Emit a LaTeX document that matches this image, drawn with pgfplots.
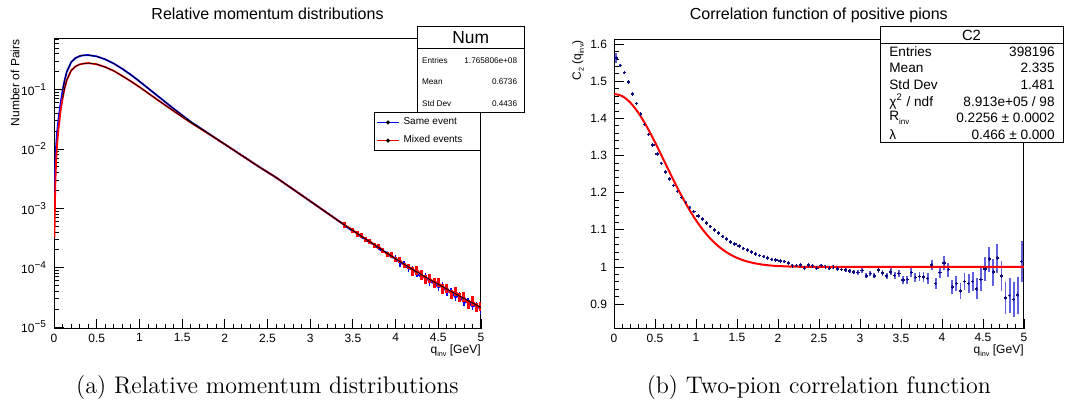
\documentclass[border=0pt]{standalone}
\usepackage{fontspec}
\usepackage{pgfplots}
\usepackage{pgfplotstable}
\pgfplotsset{compat=1.18}
\newfontfamily\helv{Liberation Sans}
\definecolor{navyb}{rgb}{0.05,0.05,0.5}
\definecolor{errb}{rgb}{0.38,0.38,0.86}

% same-event pairs (normalised)
\pgfplotstableread{
q n
0.005 1.6e-3
0.015 5.6e-3
0.025 1.12e-2
0.035 1.78e-2
0.05 2.95e-2
0.075 5.6e-2
0.10 9.5e-2
0.125 0.145
0.15 0.20
0.20 0.288
0.25 0.339
0.30 0.367
0.35 0.380
0.40 0.382
0.50 0.363
0.60 0.324
0.70 0.275
0.80 0.224
0.90 0.178
1.00 0.138
1.20 0.0813
1.40 0.0479
1.60 0.0288
1.80 0.0186
2.00 0.0120
2.20 7.76e-3
2.40 5.01e-3
2.60 3.31e-3
2.80 2.09e-3
3.00 1.32e-3
3.20 8.32e-4
3.40 5.25e-4
3.50 4.07e-4
3.55 3.85e-4
3.60 3.24e-4
3.65 3.02e-4
3.70 2.60e-4
3.75 2.48e-4
3.80 2.09e-4
3.85 1.88e-4
3.90 1.80e-4
3.95 1.50e-4
4.00 1.45e-4
4.05 1.19e-4
4.10 1.15e-4
4.15 9.66e-5
4.20 9.55e-5
4.25 7.85e-5
4.30 7.00e-5
4.35 7.08e-5
4.40 5.75e-5
4.45 5.50e-5
4.50 4.68e-5
4.55 5.01e-5
4.60 3.89e-5
4.65 3.98e-5
4.70 3.16e-5
4.75 3.39e-5
4.80 2.57e-5
4.85 2.69e-5
4.90 2.21e-5
4.95 2.37e-5
5.00 1.91e-5
}\same

% mixed-event pairs (normalised)
\pgfplotstableread{
q n
0.005 3.2e-4
0.015 2.5e-3
0.025 6.3e-3
0.035 1.12e-2
0.05 2.0e-2
0.075 4.17e-2
0.10 7.08e-2
0.125 0.107
0.15 0.145
0.20 0.209
0.25 0.245
0.30 0.266
0.35 0.275
0.40 0.280
0.50 0.268
0.60 0.240
0.70 0.207
0.80 0.170
0.90 0.138
1.00 0.111
1.20 0.0692
1.40 0.0437
1.60 0.0279
1.80 0.0184
2.00 0.0120
2.20 7.76e-3
2.40 5.01e-3
2.60 3.31e-3
2.80 2.09e-3
3.00 1.32e-3
3.20 8.32e-4
3.40 5.25e-4
3.50 4.315e-4
3.55 3.715e-4
3.60 3.508e-4
3.65 2.985e-4
3.70 2.786e-4
3.75 2.371e-4
3.80 2.291e-4
3.85 1.950e-4
3.90 1.679e-4
3.95 1.641e-4
4.00 1.380e-4
4.05 1.349e-4
4.10 1.096e-4
4.15 1.059e-4
4.20 8.81e-5
4.25 9.12e-5
4.30 7.67e-5
4.35 6.46e-5
4.40 6.61e-5
4.45 5.62e-5
4.50 5.69e-5
4.55 4.47e-5
4.60 4.57e-5
4.65 3.63e-5
4.70 4.07e-5
4.75 3.16e-5
4.80 3.24e-5
4.85 2.45e-5
4.90 2.79e-5
4.95 2.16e-5
5.00 2.24e-5
}\mixed

% smooth centre of the tail
\pgfplotstableread{
q n
3.40 5.25e-4
3.60 3.39e-4
3.80 2.19e-4
4.00 1.41e-4
4.20 9.33e-5
4.40 6.31e-5
4.60 4.37e-5
4.80 3.02e-5
5.00 2.14e-5
}\tailmid

% C2(qinv), bin centre, value, error
\pgfplotstableread{
q c e
0.025 1.562 0.014
0.075 1.542 0.004
0.125 1.523 0.003
0.175 1.498 0.003
0.225 1.466 0.003
0.275 1.440 0.003
0.325 1.411 0.003
0.375 1.383 0.003
0.425 1.357 0.003
0.475 1.328 0.003
0.525 1.304 0.003
0.575 1.279 0.003
0.625 1.256 0.003
0.675 1.237 0.003
0.725 1.219 0.003
0.775 1.203 0.003
0.825 1.187 0.003
0.875 1.174 0.003
0.925 1.160 0.003
0.975 1.149 0.003
1.025 1.138 0.003
1.075 1.129 0.003
1.125 1.119 0.003
1.175 1.109 0.003
1.225 1.100 0.003
1.275 1.091 0.003
1.325 1.082 0.003
1.375 1.075 0.003
1.425 1.068 0.003
1.475 1.062 0.003
1.525 1.056 0.003
1.575 1.050 0.003
1.625 1.045 0.003
1.675 1.040 0.003
1.725 1.035 0.003
1.775 1.031 0.003
1.825 1.028 0.003
1.875 1.024 0.003
1.925 1.020 0.003
1.975 1.019 0.003
2.025 1.016 0.003
2.075 1.015 0.003
2.125 1.010 0.003
2.175 1.003 0.004
2.225 1.004 0.004
2.275 1.005 0.004
2.325 0.998 0.004
2.375 1.005 0.004
2.425 1.002 0.004
2.475 0.998 0.004
2.525 1.004 0.004
2.575 1.000 0.004
2.625 0.997 0.005
2.675 1.000 0.005
2.725 0.995 0.005
2.775 0.993 0.005
2.825 0.992 0.005
2.875 0.989 0.005
2.925 0.986 0.006
2.975 0.985 0.006
3.025 0.990 0.006
3.075 0.976 0.007
3.125 0.982 0.007
3.175 0.976 0.007
3.225 0.992 0.008
3.275 0.983 0.008
3.325 0.975 0.008
3.375 0.987 0.009
3.425 0.977 0.009
3.475 0.982 0.010
3.525 0.965 0.010
3.575 0.966 0.011
3.625 0.985 0.011
3.675 0.972 0.012
3.725 0.974 0.012
3.775 0.973 0.013
3.825 0.969 0.014
3.875 1.006 0.014
3.925 0.955 0.015
3.975 0.985 0.016
4.025 1.011 0.018
4.075 0.993 0.019
4.125 0.946 0.020
4.175 0.955 0.021
4.225 0.935 0.022
4.275 0.961 0.024
4.325 0.955 0.025
4.375 0.961 0.026
4.425 0.941 0.028
4.475 0.966 0.030
4.525 0.995 0.032
4.575 1.021 0.034
4.625 0.986 0.036
4.675 1.024 0.039
4.725 0.975 0.041
4.775 0.917 0.043
4.825 0.923 0.046
4.875 0.912 0.048
4.925 0.924 0.050
4.975 1.015 0.055
}\corr

% fitted curve values
\pgfplotstableread{
q c
0.0 1.4660
0.1 1.4600
0.2 1.4422
0.3 1.4142
0.4 1.3779
0.5 1.3358
0.6 1.2908
0.7 1.2453
0.8 1.2015
0.9 1.1613
1.0 1.1257
1.1 1.0955
1.2 1.0706
1.3 1.0509
1.4 1.0358
1.5 1.0245
1.6 1.0163
1.7 1.0106
1.8 1.0067
1.9 1.0041
2.0 1.0025
2.2 1.0008
2.4 1.0002
2.6 1.0001
3.0 1.0
4.0 1.0
5.0 1.0
}\fit

\pgfplotsset{
  rootstyle/.style={
    scale only axis,
    xmin=0, xmax=5,
    axis line style={line width=0.5pt},
    tick align=inside,
    tick pos=left,
    major tick length=4.8pt,
    minor tick length=2.4pt,
    every tick/.style={black, line width=0.4pt},
    xtick={0,0.5,1,1.5,2,2.5,3,3.5,4,4.5,5},
    minor x tick num=4,
    ticklabel style={font=\helv\fontsize{6}{7}\selectfont},
    xticklabel style={yshift=1.2pt},
    /pgf/number format/assume math mode=true,
    label style={font=\helv\fontsize{6}{7}\selectfont},
  },
}
\newcommand{\inv}{\raisebox{-1.6pt}{\fontsize{3.6}{4}\selectfont inv}}

\begin{document}
\begin{tikzpicture}[x=0.5pt,y=-0.5pt]
\useasboundingbox (0,0) rectangle (1084,405);

\begin{axis}[rootstyle,
  at={(27pt,-164.5pt)}, anchor=south west,
  width=213.5pt, height=145pt,
  ymode=log, ymin=9.25e-6, ymax=0.713,
  ytick={1e-5,1e-4,1e-3,1e-2,1e-1},
  yticklabels={10\textsuperscript{−5},10\textsuperscript{−4},10\textsuperscript{−3},10\textsuperscript{−2},10\textsuperscript{−1}},
  minor ytick={2e-5,3e-5,4e-5,5e-5,6e-5,7e-5,8e-5,9e-5,
    2e-4,3e-4,4e-4,5e-4,6e-4,7e-4,8e-4,9e-4,
    2e-3,3e-3,4e-3,5e-3,6e-3,7e-3,8e-3,9e-3,
    2e-2,3e-2,4e-2,5e-2,6e-2,7e-2,8e-2,9e-2,
    0.2,0.3,0.4,0.5,0.6,0.7},
  xlabel={q\inv\ [GeV]},
  xlabel style={at={(axis description cs:1,-0.076)}, anchor=east, inner sep=0pt},
  ylabel={Number of Pairs},
  ylabel style={at={(axis description cs:-0.0913,1)}, anchor=east, inner sep=0pt},
  legend style={at={(axis description cs:1,0.747)}, anchor=north east,
    draw=black, line width=0.5pt, font=\helv\fontsize{5}{6}\selectfont,
    inner xsep=1pt, inner ysep=0.3pt, row sep=0pt, cells={anchor=west}},
  legend cell align=left,
  legend image code/.code={\draw[#1, line width=0.5pt] (0pt,0pt) -- (11pt,0pt);
    \fill[black] (5.5pt,0pt) circle (0.45pt);},
]
\addplot[blue, line width=0.9pt] table[x=q,y=n] {\same};
\addlegendentry{Same event}
\addplot[forget plot, draw=none, mark=none,
  restrict x to domain=4.0:5,
  error bars/.cd, y dir=both, y fixed relative=0.13, error mark=none,
  error bar style={blue, line width=0.7pt}] table[x=q,y=n] {\same};
\addplot[red, line width=0.9pt] table[x=q,y=n] {\mixed};
\addlegendentry{Mixed events\hspace*{6pt}}
\addplot[forget plot, draw=none, mark=none,
  restrict x to domain=3.3:4.2,
  error bars/.cd, y dir=both, y fixed relative=0.1, error mark=none,
  error bar style={red, line width=1.5pt}] table[x=q,y=n] {\mixed};
\addplot[forget plot, draw=none, mark=none,
  restrict x to domain=4.2:5,
  error bars/.cd, y dir=both, y fixed relative=0.18, error mark=none,
  error bar style={red, line width=1.5pt}] table[x=q,y=n] {\mixed};
\addplot[forget plot, black, line width=0.35pt, restrict x to domain=0.09:3.45] table[x=q,y=n] {\same};
\addplot[forget plot, black, line width=0.35pt, restrict x to domain=0.09:3.45] table[x=q,y=n] {\mixed};
\addplot[forget plot, black, line width=0.45pt] table[x=q,y=n] {\tailmid};
\end{axis}

\begin{axis}[rootstyle,
  at={(307pt,-164.5pt)}, anchor=south west,
  width=205pt, height=144.5pt,
  ymin=0.833, ymax=1.611,
  ytick={0.9,1,1.1,1.2,1.3,1.4,1.5,1.6},
  yticklabels={0.9,1,1.1,1.2,1.3,1.4,1.5,1.6},
  minor y tick num=4,
  xlabel={q\inv\ [GeV]},
  xlabel style={at={(axis description cs:1,-0.076)}, anchor=east, inner sep=0pt},
  ylabel={C\raisebox{-1.6pt}{\fontsize{3.6}{4}\selectfont 2} (q\inv)},
  ylabel style={at={(axis description cs:-0.0878,1)}, anchor=east, inner sep=0pt},
]
\addplot[draw=none, mark=none,
  error bars/.cd, y dir=both, y explicit, error mark=none,
  error bar style={errb, line width=0.9pt}] table[x=q,y=c,y error=e] {\corr};
\addplot[draw=none, mark=|, mark size=0.9pt, mark options={navyb, line width=0.5pt},
  error bars/.cd, x dir=both, x fixed=0.02, error mark=none,
  error bar style={navyb, line width=0.8pt}] table[x=q,y=c] {\corr};
\addplot[red, line width=1pt, smooth] table[x=q,y=c] {\fit};
\end{axis}

% titles
\node[font=\helv\fontsize{8}{9}\selectfont, anchor=base] at (267.5,20) {Relative momentum distributions};
\node[font=\helv\fontsize{8}{9}\selectfont, anchor=base] at (818.8,20) {Correlation function of positive pions};

% statistics box, left
\draw[line width=0.5pt, fill=white] (417.3,26.7) rectangle (524,112.3);
\draw[line width=0.5pt] (417.3,48.3) -- (524,48.3);
\node[font=\helv\fontsize{8.7}{9}\selectfont] at (470.7,37.5) {Num};
\begin{scope}[every node/.style={font=\helv\fontsize{4.1}{5}\selectfont, inner sep=0pt}]
\node[anchor=west] at (421.7,60.7) {Entries};
\node[anchor=east] at (517.5,60.7) {1.765806e+08};
\node[anchor=west] at (421.7,81.7) {Mean};
\node[anchor=east] at (517.5,81.7) {0.6736};
\node[anchor=west] at (421.7,103.3) {Std Dev};
\node[anchor=east] at (517.5,103.3) {0.4436};
\end{scope}

% statistics box, right
\draw[line width=0.5pt, fill=white] (880,26.7) rectangle (1063,142.7);
\draw[line width=0.5pt] (880,43.3) -- (1063,43.3);
\node[font=\helv\fontsize{7.4}{8}\selectfont] at (971.5,35.5) {C2};
\begin{scope}[every node/.style={font=\helv\fontsize{6.8}{8}\selectfont, inner sep=0pt}]
\node[anchor=west] at (889,51.7) {Entries};
\node[anchor=east] at (1055,51.7) {398196};
\node[anchor=west] at (889,68.3) {Mean};
\node[anchor=east] at (1055,68.3) {2.335};
\node[anchor=west] at (889,84.9) {Std Dev};
\node[anchor=east] at (1055,84.9) {1.481};
\node[anchor=west] at (889,101.5) {χ\textsuperscript{2} / ndf};
\node[anchor=east] at (1055,101.5) {8.913e+05 / 98};
\node[anchor=west] at (889,118.1) {R\raisebox{-1.8pt}{\fontsize{4}{4}\selectfont inv}};
\node[anchor=east] at (1055,118.1) {0.2256 ± 0.0002};
\node[anchor=west] at (889,134.7) {λ};
\node[anchor=east] at (1055,134.7) {0.466 ± 0.000};
\end{scope}

% sub-captions
\node[font=\fontsize{12}{14}\selectfont, anchor=base] at (267.5,394) {(a) Relative momentum distributions};
\node[font=\fontsize{12}{14}\selectfont, anchor=base] at (818.8,394) {(b) Two-pion correlation function};
\end{tikzpicture}
\end{document}
